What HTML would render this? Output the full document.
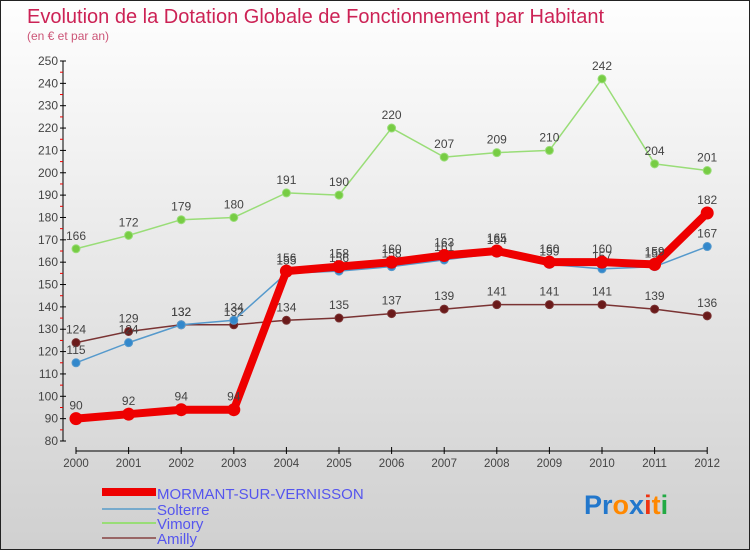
<!DOCTYPE html>
<html><head><meta charset="utf-8"><style>
body{margin:0;}
#wrap{position:relative;width:748px;height:548px;border:1px solid #222;background:linear-gradient(#fefefe,#d0d0d0);overflow:hidden;font-family:"Liberation Sans",sans-serif;}
</style></head><body>
<div id="wrap">
<svg id="svg" width="748" height="548" style="position:absolute;left:0;top:0">
<text x="26" y="22" font-size="20" fill="#cc2255">Evolution de la Dotation Globale de Fonctionnement par Habitant</text>
<text x="26" y="39" font-size="12" fill="#cc5577">(en € et par an)</text>
<g id="axes"></g><g id="series"></g>
<g>
<line x1="101" y1="491" x2="155" y2="491" stroke="#ee0000" stroke-width="8"/>
<text x="156" y="498" font-size="15" fill="#5555ee">MORMANT-SUR-VERNISSON</text>
<line x1="101" y1="508" x2="155" y2="508" stroke="#77aacc" stroke-width="2"/>
<text x="156" y="514" font-size="15" fill="#5555ee">Solterre</text>
<line x1="101" y1="522" x2="155" y2="522" stroke="#99dd77" stroke-width="2"/>
<text x="156" y="528" font-size="15" fill="#5555ee">Vimory</text>
<line x1="101" y1="537" x2="155" y2="537" stroke="#996666" stroke-width="2"/>
<text x="156" y="543" font-size="15" fill="#5555ee">Amilly</text>
</g>
<text x="583" y="513" font-size="27" font-weight="bold"><tspan fill="#2277cc">Pr</tspan><tspan fill="#ff8800">o</tspan><tspan fill="#2277cc">x</tspan><tspan fill="#ee3311">i</tspan><tspan fill="#ff8800">t</tspan><tspan fill="#22aa44">i</tspan></text>
</svg>
</div>
<script>
const years=[2000,2001,2002,2003,2004,2005,2006,2007,2008,2009,2010,2011,2012];
const mormant=[90,92,94,94,156,158,160,163,165,160,160,159,182];
const solterre=[115,124,132,134,155,156,158,161,164,159,157,158,167];
const vimory=[166,172,179,180,191,190,220,207,209,210,242,204,201];
const amilly=[124,129,132,132,134,135,137,139,141,141,141,139,136];
const yTicks=[80,90,100,110,120,130,140,150,160,170,180,190,200,210,220,230,240,250];
const NS="http://www.w3.org/2000/svg";
const xS=i=>75+i*52.6;
const yS=v=>440-(v-80)*(380/170);
function mk(p,t,a){const e=document.createElementNS(NS,t);for(const k in a)e.setAttribute(k,a[k]);p.appendChild(e);return e;}
const ax=document.getElementById('axes');
let yl=mk(ax,'line',{x1:62,y1:yS(250),x2:62,y2:yS(80),stroke:'#000'});


yTicks.forEach(v=>{
 const y=yS(v);
 mk(ax,'line',{x1:59,y1:y,x2:65,y2:y,stroke:'#000'});
 mk(ax,'line',{x1:59,y1:y+11.2,x2:62,y2:y+11.2,stroke:v>80?'#e00':'none'});
 const t=mk(ax,'text',{x:57,y:y+4,'font-size':12,'text-anchor':'end',fill:'#444'});
 t.textContent=v;
 
 
});
let xl=mk(ax,'line',{x1:xS(0),y1:450,x2:xS(12),y2:450,stroke:'#000'});


years.forEach((yr,i)=>{
 mk(ax,'line',{x1:xS(i),y1:446,x2:xS(i),y2:453,stroke:'#000'});
 const t=mk(ax,'text',{x:xS(i),y:466,'font-size':11.5,'text-anchor':'middle',fill:'#444'});
 t.textContent=yr;
 
 
});
const sg=document.getElementById('series');
function series(data,name,color,dot,w,r){
 const g=mk(sg,'g',{});
 
 
 const pl=mk(g,'polyline',{points:data.map((v,i)=>xS(i)+','+yS(v)).join(' '),fill:'none',stroke:color,'stroke-width':w,'stroke-linejoin':'round'});
 
 
 data.forEach((v,i)=>{
  const c=mk(g,'circle',{cx:xS(i),cy:yS(v),r:r,fill:dot,stroke:color,'stroke-width':1});
  
  
  const t=mk(g,'text',{x:xS(i),y:yS(v)-9,'font-size':12,'text-anchor':'middle',fill:'#444'});
  t.textContent=v;
  
  
 });
}
series(amilly,'amilly','#7a3333','#6a1a1a',1.5,4);
series(vimory,'vimory','#99dd77','#77cc44',1.5,4);
series(solterre,'solterre','#5599cc','#3388cc',1.5,4);
series(mormant,'mormant','#ee0000','#ee0000',8,6);
</script>
</body></html>
